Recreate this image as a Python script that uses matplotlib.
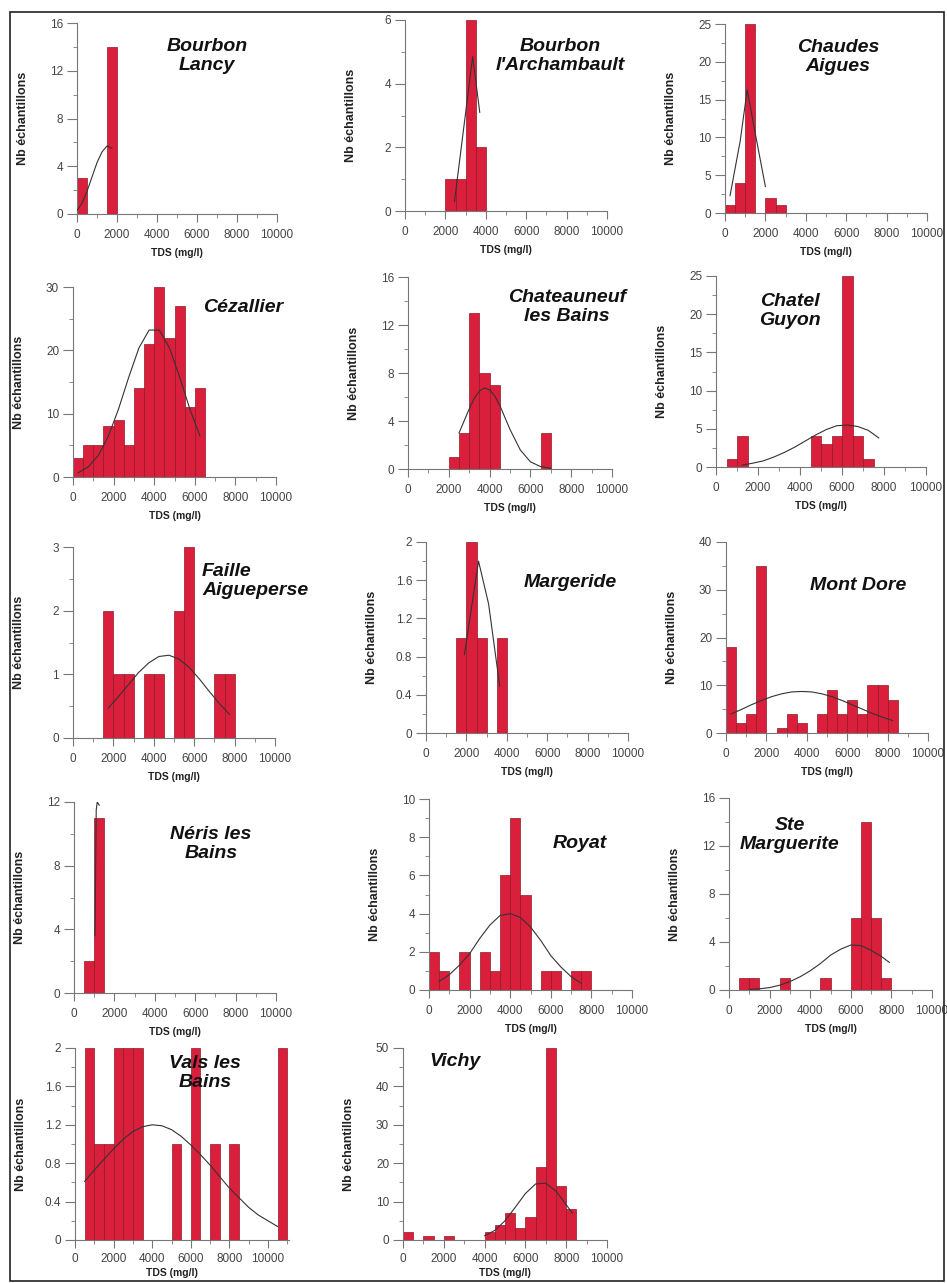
import matplotlib
matplotlib.use("Agg")
import matplotlib.pyplot as plt
from matplotlib.patches import Rectangle
from matplotlib.ticker import MultipleLocator, FixedLocator, FuncFormatter

# ---- data (bin left edge in mg/l, counts; fitted curve points) ----
bl_left = [0, 1500]
bl_count = [3, 14]
bl_fit_x = [0, 250, 500, 750, 1000, 1250, 1500, 1750]
bl_fit_y = [0.3, 0.9, 1.9, 3.1, 4.3, 5.2, 5.7, 5.5]

ba_left = [2000, 2500, 3000, 3500]
ba_count = [1, 1, 6, 2]
ba_fit_x = [2450, 3350, 3700]
ba_fit_y = [0.3, 4.85, 3.1]

ca_left = [0, 500, 1000, 2000, 2500]
ca_count = [1, 4, 25, 2, 1]
ca_fit_x = [250, 750, 1100, 1500, 2000]
ca_fit_y = [2.3, 9.5, 16.3, 10.5, 3.5]

cez_left = [0, 500, 1000, 1500, 2000, 2500, 3000, 3500, 4000, 4500, 5000, 5500, 6000]
cez_count = [3, 5, 5, 8, 9, 5, 14, 21, 30, 22, 27, 11, 14]
cez_fit_x = [250, 750, 1250, 1750, 2250, 2750, 3250, 3750, 4250, 4750, 5250, 5750, 6250]
cez_fit_y = [0.65, 1.6, 3.4, 6.5, 10.8, 15.8, 20.4, 23.2, 23.2, 20.4, 15.8, 10.8, 6.5]

chn_left = [2000, 2500, 3000, 3500, 4000, 6500]
chn_count = [1, 3, 13, 8, 7, 3]
chn_fit_x = [2500, 2750, 3000, 3250, 3500, 3750, 4000, 4250, 4500, 4750, 5000, 5500, 6000, 6500, 7000]
chn_fit_y = [3.0, 4.0, 5.0, 5.9, 6.5, 6.75, 6.6, 6.1, 5.3, 4.3, 3.3, 1.6, 0.6, 0.2, 0.05]

cg_left = [500, 1000, 4500, 5000, 5500, 6000, 6500, 7000]
cg_count = [1, 4, 4, 3, 4, 25, 4, 1]
cg_fit_x = [1250, 1750, 2250, 2750, 3250, 3750, 4250, 4750, 5250, 5750, 6250, 6750, 7250, 7750]
cg_fit_y = [0.25, 0.5, 0.8, 1.3, 1.9, 2.6, 3.4, 4.2, 4.9, 5.4, 5.5, 5.3, 4.8, 3.8]

fa_left = [1500, 2000, 2500, 3500, 4000, 5000, 5500, 7000, 7500]
fa_count = [2, 1, 1, 1, 1, 2, 3, 1, 1]
fa_fit_x = [1750, 2250, 2750, 3250, 3750, 4250, 4750, 5250, 5750, 6250, 6750, 7250, 7750]
fa_fit_y = [0.47, 0.65, 0.84, 1.03, 1.18, 1.28, 1.30, 1.24, 1.11, 0.93, 0.73, 0.54, 0.37]

mar_left = [1500, 2000, 2500, 3500]
mar_count = [1, 2, 1, 1]
mar_fit_x = [1900, 2600, 3100, 3650]
mar_fit_y = [0.82, 1.8, 1.35, 0.49]

md_left = [0, 500, 1000, 1500, 2500, 3000, 3500, 4500, 5000, 5500, 6000, 6500, 7000, 7500, 8000]
md_count = [18, 2, 4, 35, 1, 4, 2, 4, 9, 4, 7, 4, 10, 10, 7]
md_fit_x = [250, 750, 1250, 1750, 2250, 2750, 3250, 3750, 4250, 4750, 5250, 5750, 6250, 6750, 7250, 7750, 8250]
md_fit_y = [4.0, 4.9, 5.9, 6.8, 7.6, 8.2, 8.6, 8.7, 8.6, 8.2, 7.6, 6.8, 5.9, 5.0, 4.1, 3.3, 2.6]

ner_left = [500, 1000]
ner_count = [2, 11]
ner_fit_x = [1040, 1100, 1150, 1250]
ner_fit_y = [3.6, 11.5, 12.0, 11.8]

roy_left = [0, 500, 1500, 2500, 3000, 3500, 4000, 4500, 5500, 6000, 7000, 7500]
roy_count = [2, 1, 2, 2, 1, 6, 9, 5, 1, 1, 1, 1]
roy_fit_x = [500, 1000, 1500, 2000, 2500, 3000, 3500, 4000, 4500, 5000, 5500, 6000, 6500, 7000, 7500]
roy_fit_y = [0.45, 0.8, 1.3, 1.9, 2.7, 3.4, 3.9, 4.0, 3.8, 3.3, 2.6, 1.8, 1.2, 0.7, 0.35]

sm_left = [500, 1000, 2500, 4500, 6000, 6500, 7000, 7500]
sm_count = [1, 1, 1, 1, 6, 14, 6, 1]
sm_fit_x = [1000, 1500, 2000, 2500, 3000, 3500, 4000, 4500, 5000, 5500, 6000, 6500, 7000, 7500, 7900]
sm_fit_y = [0.05, 0.1, 0.2, 0.4, 0.7, 1.1, 1.6, 2.2, 2.9, 3.4, 3.75, 3.7, 3.3, 2.8, 2.3]

vals_left = [500, 1000, 1500, 2000, 2500, 3000, 5000, 6000, 7000, 8000, 10500]
vals_count = [2, 1, 1, 2, 2, 2, 1, 2, 1, 1, 2]
vals_fit_x = [500, 1000, 1500, 2000, 2500, 3000, 3500, 4000, 4500, 5000, 5500,
              6000, 6500, 7000, 7500, 8000, 8500, 9000, 9500, 10000, 10500]
vals_fit_y = [0.61, 0.73, 0.84, 0.95, 1.05, 1.13, 1.18, 1.2, 1.19, 1.15, 1.08,
              0.99, 0.89, 0.78, 0.66, 0.54, 0.44, 0.34, 0.26, 0.20, 0.14]

vic_left = [0, 1000, 2000, 4000, 4500, 5000, 5500, 6000, 6500, 7000, 7500, 8000]
vic_count = [2, 1, 1, 2, 4, 7, 3, 6, 19, 50, 14, 8]
vic_fit_x = [4000, 4500, 5000, 5500, 6000, 6500, 7000, 7500, 8000, 8300]
vic_fit_y = [1.1, 2.5, 5.0, 8.5, 12.1, 14.6, 14.8, 12.7, 9.2, 7.0]

# ---- layout (pixels) ----
W, H = 947, 1283
fig = plt.figure(figsize=(W / 100, H / 100), dpi=100)
plt.rcParams['font.family'] = ['Liberation Sans', 'DejaVu Sans']

RED = '#DA1F3D'
EDGE = '#8E1A22'
AX = '#777777'


def fmt(v, pos):
    return ('%g' % round(v, 2))


# name, left, count, fit x, fit y, ymax, ystep, box (x@0, x@10000, y@top, y@0), xmax, title pos, align
panels = [
    ("Bourbon\nLancy", bl_left, bl_count, bl_fit_x, bl_fit_y, 16, 4, (77, 277, 23, 214), 10000, (207, 56), 'center'),
    ("Bourbon\nl'Archambault", ba_left, ba_count, ba_fit_x, ba_fit_y, 6, 2, (405, 607, 20, 211), 10000, (560, 56), 'center'),
    ("Chaudes\nAigues", ca_left, ca_count, ca_fit_x, ca_fit_y, 25, 5, (725, 927, 24, 213), 10000, (838, 57), 'center'),
    ("Cézallier", cez_left, cez_count, cez_fit_x, cez_fit_y, 30, 10, (73, 276, 287, 477), 10000, (243, 308), 'center'),
    ("Chateauneuf\nles Bains", chn_left, chn_count, chn_fit_x, chn_fit_y, 16, 4, (408, 612, 277, 469), 10000, (567, 307), 'center'),
    ("Chatel\nGuyon", cg_left, cg_count, cg_fit_x, cg_fit_y, 25, 5, (716, 926, 276, 467), 10000, (790, 311), 'center'),
    ("Faille\nAigueperse", fa_left, fa_count, fa_fit_x, fa_fit_y, 3, 1, (73, 275, 547, 738), 10000, (202, 581), 'left'),
    ("Margeride", mar_left, mar_count, mar_fit_x, mar_fit_y, 2, 0.4, (426, 628, 542, 733), 10000, (570, 582), 'center'),
    ("Mont Dore", md_left, md_count, md_fit_x, md_fit_y, 40, 10, (726, 928, 542, 733), 10000, (858, 586), 'center'),
    ("Néris les\nBains", ner_left, ner_count, ner_fit_x, ner_fit_y, 12, 4, (74, 276, 802, 993), 10000, (211, 844), 'center'),
    ("Royat", roy_left, roy_count, roy_fit_x, roy_fit_y, 10, 2, (429, 632, 799, 990), 10000, (580, 843), 'center'),
    ("Ste\nMarguerite", sm_left, sm_count, sm_fit_x, sm_fit_y, 16, 4, (729, 932, 798, 990), 10000, (790, 835), 'center'),
    ("Vals les\nBains", vals_left, vals_count, vals_fit_x, vals_fit_y, 2, 0.4, (75, 268, 1048, 1240), 11100, (205, 1073), 'center'),
    ("Vichy", vic_left, vic_count, vic_fit_x, vic_fit_y, 50, 10, (403, 607, 1048, 1240), 10000, (455, 1062), 'center'),
]

for name, left, count, fx, fy, ymax, ystep, box, xmax, tpos, ha in panels:
    x0, x1, yt, yb = box
    wpx = (x1 - x0) * xmax / 10000
    ax = fig.add_axes([x0 / W, 1 - yb / H, wpx / W, (yb - yt) / H])
    ax.bar(left, count, width=500, align='edge', color=RED, edgecolor=EDGE, linewidth=0.5, zorder=2)
    ax.plot(fx, fy, color='#333333', linewidth=0.8, zorder=3)
    ax.set_xlim(0, xmax)
    ax.set_ylim(0, ymax)
    ax.set_facecolor('none')
    for s in ('top', 'right'):
        ax.spines[s].set_visible(False)
    for s in ('left', 'bottom'):
        ax.spines[s].set_color(AX)
        ax.spines[s].set_linewidth(0.8)
    ax.xaxis.set_major_locator(FixedLocator([0, 2000, 4000, 6000, 8000, 10000]))
    ax.xaxis.set_minor_locator(MultipleLocator(1000))
    ax.yaxis.set_major_locator(MultipleLocator(ystep))
    ax.yaxis.set_minor_locator(MultipleLocator(ystep / 2))
    ax.yaxis.set_major_formatter(FuncFormatter(fmt))
    ax.tick_params(axis='x', which='major', length=6, width=0.8, color=AX, labelsize=8.5,
                   labelcolor='#444444', pad=3 if yb > 1200 else 5)
    ax.tick_params(axis='y', which='major', length=7, width=0.8, color=AX, labelsize=8.5,
                   labelcolor='#444444', pad=3)
    ax.tick_params(which='minor', length=3, width=0.6, color=AX)
    ax.set_xlabel('TDS (mg/l)', fontsize=7.5, fontweight='bold', color='#222222')
    ax.set_ylabel('Nb échantillons', fontsize=9, fontweight='bold', color='#222222')
    ax.xaxis.set_label_coords(0.5 * 10000 / xmax, -(28 if yb > 1200 else 34) / (yb - yt))
    ax.yaxis.set_label_coords(-48 / wpx, 0.5)
    fig.text(tpos[0] / W, 1 - tpos[1] / H, name, ha=ha, va='center', fontsize=14,
             fontweight='bold', style='italic', color='#111111', linespacing=1.15)

# outer frame
fig.patches.append(Rectangle((10 / W, 2 / H), 934 / W, (H - 14) / H, transform=fig.transFigure,
                             fill=False, edgecolor='#222222', linewidth=1.2))

fig.savefig('out.png', dpi=100)
